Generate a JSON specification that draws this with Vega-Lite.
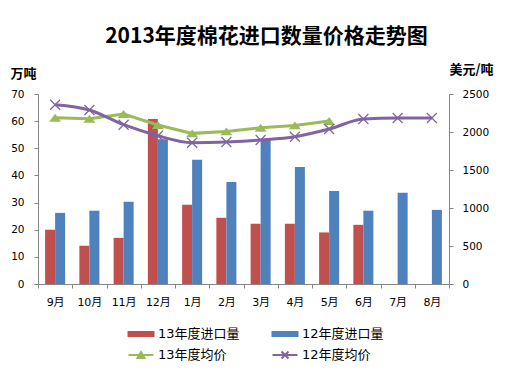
{
  "$schema": "https://vega.github.io/schema/vega-lite/v6.json",
  "width": 411,
  "height": 190,
  "autosize": {"type": "none"},
  "padding": {"left": 38, "top": 94, "right": 56, "bottom": 92},
  "background": "white",
  "config": {
    "view": {"stroke": null},
    "font": "DejaVu Sans, Noto Sans CJK SC",
    "axis": {"grid": false, "domainColor": "#868686", "tickColor": "#868686", "labelColor": "#000000", "labelFont": "DejaVu Sans, Noto Sans CJK SC", "titleFont": "Noto Sans CJK SC", "titleColor": "#000000"}
  },
  "title": {
    "text": "2013年度棉花进口数量价格走势图",
    "font": "Noto Sans CJK SC",
    "fontSize": 21,
    "fontWeight": "bold",
    "color": "#000000",
    "anchor": "middle",
    "dx": 23,
    "offset": 16
  },
  "data": {
    "values": [
      {"month": "9月", "series": "13年度进口量", "kind": "qty", "value": 20.0},
      {"month": "10月", "series": "13年度进口量", "kind": "qty", "value": 14.1},
      {"month": "11月", "series": "13年度进口量", "kind": "qty", "value": 17.0},
      {"month": "12月", "series": "13年度进口量", "kind": "qty", "value": 60.8},
      {"month": "1月", "series": "13年度进口量", "kind": "qty", "value": 29.2},
      {"month": "2月", "series": "13年度进口量", "kind": "qty", "value": 24.4},
      {"month": "3月", "series": "13年度进口量", "kind": "qty", "value": 22.2},
      {"month": "4月", "series": "13年度进口量", "kind": "qty", "value": 22.2},
      {"month": "5月", "series": "13年度进口量", "kind": "qty", "value": 19.0},
      {"month": "6月", "series": "13年度进口量", "kind": "qty", "value": 21.8},
      {"month": "9月", "series": "12年度进口量", "kind": "qty", "value": 26.2},
      {"month": "10月", "series": "12年度进口量", "kind": "qty", "value": 27.0},
      {"month": "11月", "series": "12年度进口量", "kind": "qty", "value": 30.3},
      {"month": "12月", "series": "12年度进口量", "kind": "qty", "value": 53.3},
      {"month": "1月", "series": "12年度进口量", "kind": "qty", "value": 45.8},
      {"month": "2月", "series": "12年度进口量", "kind": "qty", "value": 37.6},
      {"month": "3月", "series": "12年度进口量", "kind": "qty", "value": 53.1},
      {"month": "4月", "series": "12年度进口量", "kind": "qty", "value": 43.1},
      {"month": "5月", "series": "12年度进口量", "kind": "qty", "value": 34.3},
      {"month": "6月", "series": "12年度进口量", "kind": "qty", "value": 27.0},
      {"month": "7月", "series": "12年度进口量", "kind": "qty", "value": 33.6},
      {"month": "8月", "series": "12年度进口量", "kind": "qty", "value": 27.3},
      {"month": "9月", "series": "13年度均价", "kind": "price", "value": 2188},
      {"month": "10月", "series": "13年度均价", "kind": "price", "value": 2175},
      {"month": "11月", "series": "13年度均价", "kind": "price", "value": 2237},
      {"month": "12月", "series": "13年度均价", "kind": "price", "value": 2092},
      {"month": "1月", "series": "13年度均价", "kind": "price", "value": 1982},
      {"month": "2月", "series": "13年度均价", "kind": "price", "value": 2008},
      {"month": "3月", "series": "13年度均价", "kind": "price", "value": 2055},
      {"month": "4月", "series": "13年度均价", "kind": "price", "value": 2087},
      {"month": "5月", "series": "13年度均价", "kind": "price", "value": 2145},
      {"month": "9月", "series": "12年度均价", "kind": "price", "value": 2359},
      {"month": "10月", "series": "12年度均价", "kind": "price", "value": 2289},
      {"month": "11月", "series": "12年度均价", "kind": "price", "value": 2096},
      {"month": "12月", "series": "12年度均价", "kind": "price", "value": 1951},
      {"month": "1月", "series": "12年度均价", "kind": "price", "value": 1859},
      {"month": "2月", "series": "12年度均价", "kind": "price", "value": 1868},
      {"month": "3月", "series": "12年度均价", "kind": "price", "value": 1895},
      {"month": "4月", "series": "12年度均价", "kind": "price", "value": 1938},
      {"month": "5月", "series": "12年度均价", "kind": "price", "value": 2039},
      {"month": "6月", "series": "12年度均价", "kind": "price", "value": 2171},
      {"month": "7月", "series": "12年度均价", "kind": "price", "value": 2184},
      {"month": "8月", "series": "12年度均价", "kind": "price", "value": 2184}
    ]
  },
  "encoding": {
    "x": {
      "field": "month",
      "type": "ordinal",
      "sort": ["9月", "10月", "11月", "12月", "1月", "2月", "3月", "4月", "5月", "6月", "7月", "8月"],
      "scale": {"paddingInner": 0, "paddingOuter": 0},
      "axis": {"title": null, "labelAngle": 0, "tickBand": "extent", "tickSize": 4, "labelPadding": 8, "labelFontSize": 11}
    },
    "color": {
      "field": "series",
      "type": "nominal",
      "scale": {
        "domain": ["13年度进口量", "12年度进口量", "13年度均价", "12年度均价"],
        "range": ["#C0504D", "#4F81BD", "#9BBB59", "#8064A2"]
      },
      "legend": {
        "title": null,
        "orient": "none",
        "legendX": 92,
        "legendY": 229,
        "direction": "horizontal",
        "columns": 2,
        "columnPadding": 28,
        "rowPadding": 3,
        "symbolSize": 400,
        "labelOffset": 6,
        "labelFontSize": 13,
        "labelColor": "#000000",
        "labelFont": "DejaVu Sans, Noto Sans CJK SC",
        "encode": {
          "symbols": {
            "update": {
              "shape": {"signal": "datum.value == '13年度均价' ? 'M-1.25,0H1.25M-0.35,0.3L0,-0.3L0.35,0.3Z' : datum.value == '12年度均价' ? 'M-1.25,0H1.25M-0.35,-0.35L0.35,0.35M-0.35,0.35L0.35,-0.35' : 'M-1.25,-0.2H1.25V0.2H-1.25Z'"},
              "fill": {"signal": "datum.value == '13年度进口量' ? '#C0504D' : datum.value == '12年度进口量' ? '#4F81BD' : datum.value == '13年度均价' ? '#9BBB59' : 'transparent'"},
              "stroke": {"signal": "datum.value == '13年度均价' ? '#9BBB59' : datum.value == '12年度均价' ? '#8064A2' : 'transparent'"},
              "strokeWidth": {"value": 2},
              "opacity": {"value": 1}
            }
          }
        }
      }
    }
  },
  "layer": [
    {
      "transform": [{"filter": "datum.kind == 'qty'"}],
      "mark": {"type": "bar"},
      "encoding": {
        "xOffset": {"field": "series", "type": "nominal", "sort": ["13年度进口量", "12年度进口量"], "scale": {"paddingInner": 0, "paddingOuter": 0.71}},
        "y": {
          "field": "value",
          "type": "quantitative",
          "scale": {"domain": [0, 70]},
          "axis": {"orient": "left", "values": [0, 10, 20, 30, 40, 50, 60, 70], "tickSize": 4, "labelPadding": 10, "labelFontSize": 10.5, "title": "万吨", "titleAngle": 0, "titleAlign": "left", "titleBaseline": "middle", "titleX": -28, "titleY": -21, "titleFontSize": 13, "titleFontWeight": "bold"}
        }
      }
    },
    {
      "transform": [{"filter": "datum.kind == 'price'"}],
      "encoding": {
        "y": {
          "field": "value",
          "type": "quantitative",
          "scale": {"domain": [0, 2500]},
          "axis": {"orient": "right", "values": [0, 500, 1000, 1500, 2000, 2500], "format": "d", "tickSize": 4, "labelPadding": 9, "labelFontSize": 10.5, "title": "美元/吨", "titleAngle": 0, "titleAlign": "left", "titleBaseline": "middle", "titleX": 0, "titleY": -25, "titleFontSize": 13, "titleFontWeight": "bold"}
        }
      },
      "layer": [
        {
          "transform": [{"filter": "datum.series == '13年度均价'"}],
          "mark": {"type": "line", "strokeWidth": 3, "interpolate": "linear"}
        },
        {
          "transform": [{"filter": "datum.series == '13年度均价'"}],
          "mark": {"type": "point", "shape": "M-1,0.66L0,-0.66L1,0.66Z", "size": 144, "filled": true, "opacity": 1}
        },
        {
          "transform": [{"filter": "datum.series == '12年度均价'"}],
          "mark": {"type": "line", "strokeWidth": 3, "interpolate": "monotone"}
        },
        {
          "transform": [{"filter": "datum.series == '12年度均价'"}],
          "mark": {"type": "point", "shape": "M-1,-1L1,1M-1,1L1,-1", "size": 100, "filled": false, "strokeWidth": 1.2, "opacity": 1}
        }
      ]
    }
  ],
  "resolve": {"scale": {"y": "independent"}}
}
